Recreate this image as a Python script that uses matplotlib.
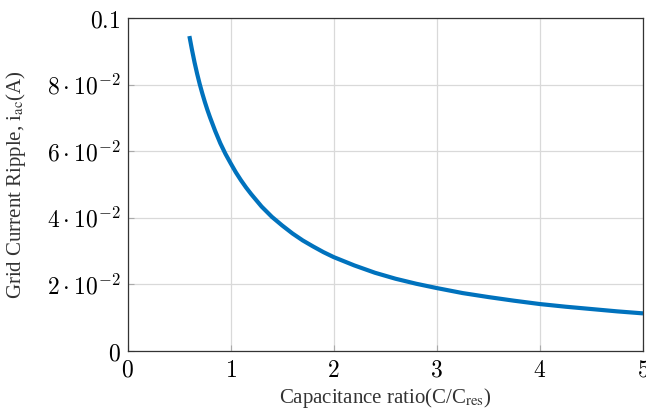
import matplotlib
matplotlib.use("Agg")
import matplotlib.pyplot as plt
from matplotlib.ticker import FixedLocator, FixedFormatter

# capacitance ratio C/C_res and grid current ripple (A)
ratio = [0.6, 0.625, 0.65, 0.675, 0.7, 0.725, 0.75, 0.775, 0.8, 0.85, 0.9,
         0.95, 1.0, 1.05, 1.1, 1.15, 1.2, 1.3, 1.4, 1.5, 1.6, 1.7, 1.8, 1.9,
         2.0, 2.2, 2.4, 2.6, 2.8, 3.0, 3.25, 3.5, 3.75, 4.0, 4.25, 4.5,
         4.75, 5.0]
ripple = [0.0946, 0.0905, 0.0867, 0.0833, 0.0802, 0.0774, 0.0748, 0.0724,
          0.0702, 0.0661, 0.0624, 0.0592, 0.0564, 0.0537, 0.0513, 0.0491,
          0.0471, 0.0434, 0.0403, 0.0377, 0.0353, 0.0332, 0.0314, 0.0297,
          0.0282, 0.0257, 0.0235, 0.0217, 0.0202, 0.0189, 0.0174, 0.0162,
          0.0151, 0.0141, 0.0133, 0.0126, 0.0119, 0.0113]

xticks = [0, 1, 2, 3, 4, 5]
yticks = [0, 0.02, 0.04, 0.06, 0.08, 0.1]
ytick_labels = ["$0$", r"$2\cdot10^{-2}$", r"$4\cdot10^{-2}$",
                r"$6\cdot10^{-2}$", r"$8\cdot10^{-2}$", "$0.1$"]

fig = plt.figure(figsize=(6.46, 4.11), dpi=100)
ax = fig.add_axes([0.1974, 0.146, 0.798, 0.810])

ax.plot(ratio, ripple, color="#0072BD", linewidth=3.0, solid_capstyle="butt")

ax.set_xlim(0, 5)
ax.set_ylim(0, 0.1)
ax.xaxis.set_major_locator(FixedLocator(xticks))
ax.xaxis.set_major_formatter(FixedFormatter(["$%d$" % t for t in xticks]))
ax.yaxis.set_major_locator(FixedLocator(yticks))
ax.yaxis.set_major_formatter(FixedFormatter(ytick_labels))

ax.grid(True, color="#d9d9d9", linewidth=0.9)
ax.set_axisbelow(True)
ax.tick_params(direction="in", length=4, width=0.8, color="#aaaaaa",
               labelsize=17, pad=5)
for lab in ax.get_xticklabels() + ax.get_yticklabels():
    lab.set_math_fontfamily("cm")

for s in ax.spines.values():
    s.set_color("#333333")
    s.set_linewidth(0.9)

ax.set_xlabel(r"Capacitance ratio(C/C$_{\mathrm{res}}$)", fontsize=15,
              fontfamily="Liberation Serif", math_fontfamily="stix",
              color="#333333")
ax.set_ylabel(r"Grid Current Ripple, i$_{\mathrm{ac}}$(A)", fontsize=15,
              fontfamily="Liberation Serif", math_fontfamily="stix",
              color="#333333")
ax.xaxis.set_label_coords(0.5, -0.105)
ax.yaxis.set_label_coords(-0.193, 0.5)

fig.savefig("out.png", dpi=100)
